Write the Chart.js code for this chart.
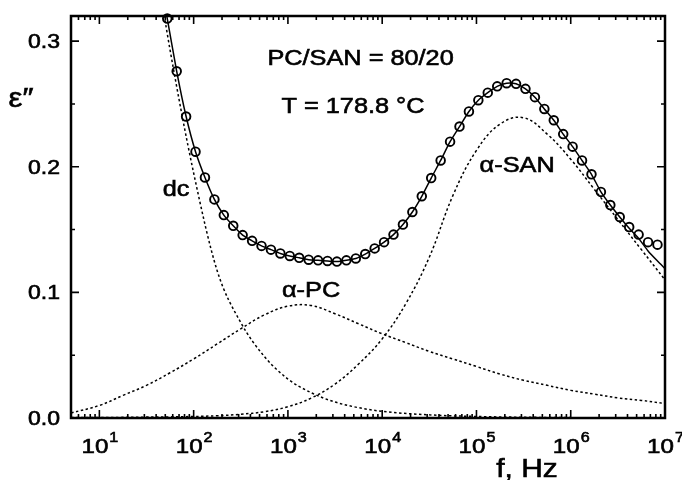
<!DOCTYPE html>
<html>
<head>
<meta charset="utf-8">
<script src="https://cdn.jsdelivr.net/npm/chart.js@4.4.1/dist/chart.umd.min.js"></script>
<style>
  body { margin: 0; background: #fff; }
  canvas { display: block; }
</style>
</head>
<body>
<canvas id="epsChart" width="682" height="480"></canvas>
<script>
// measured loss (open circles), f in Hz
const dataFreq = [5.25e1, 6.61e1, 8.32e1, 1.047e2, 1.318e2, 1.66e2, 2.09e2, 2.63e2, 3.31e2, 4.17e2,
  5.25e2, 6.61e2, 8.32e2, 1.047e3, 1.318e3, 1.66e3, 2.09e3, 2.63e3, 3.31e3, 4.17e3,
  5.25e3, 6.61e3, 8.32e3, 1.047e4, 1.318e4, 1.66e4, 2.09e4, 2.63e4, 3.31e4, 4.17e4,
  5.25e4, 6.61e4, 8.32e4, 1.047e5, 1.318e5, 1.66e5, 2.09e5, 2.63e5, 3.31e5, 4.17e5,
  5.25e5, 6.61e5, 8.32e5, 1.047e6, 1.318e6, 1.66e6, 2.09e6, 2.63e6, 3.31e6, 4.17e6,
  5.25e6, 6.61e6, 8.32e6];
const dataEps = [0.318, 0.276, 0.240, 0.212, 0.1915, 0.174, 0.1615, 0.153, 0.1456, 0.141,
  0.137, 0.134, 0.131, 0.129, 0.1275, 0.126, 0.1255, 0.125, 0.1245, 0.1255,
  0.127, 0.1305, 0.135, 0.140, 0.146, 0.154, 0.164, 0.1765, 0.191, 0.205,
  0.220, 0.232, 0.244, 0.253, 0.259, 0.264, 0.2665, 0.266, 0.262, 0.2554,
  0.246, 0.237, 0.226, 0.216, 0.205, 0.194, 0.180, 0.1695, 0.160, 0.152,
  0.146, 0.140, 0.138];

// total fit (solid line)
const fitFreq = [4.79e1, 5.25e1, 6.61e1, 8.32e1, 1.047e2, 1.318e2, 1.66e2, 2.09e2, 2.63e2, 3.31e2, 4.17e2,
  5.25e2, 6.61e2, 8.32e2, 1.047e3, 1.318e3, 1.66e3, 2.09e3, 2.63e3, 3.31e3, 4.17e3,
  5.25e3, 6.61e3, 8.32e3, 1.047e4, 1.318e4, 1.66e4, 2.09e4, 2.63e4, 3.31e4, 4.17e4,
  5.25e4, 6.61e4, 8.32e4, 1.047e5, 1.318e5, 1.66e5, 2.09e5, 2.63e5, 3.31e5, 4.17e5,
  5.25e5, 6.61e5, 8.32e5, 1.047e6, 1.318e6, 1.66e6, 2.09e6, 2.63e6, 3.31e6, 4.17e6,
  5.25e6, 6.61e6, 8.32e6, 1e7];
const fitEps = [0.335, 0.318, 0.276, 0.240, 0.212, 0.1915, 0.174, 0.1615, 0.153, 0.1456, 0.141,
  0.137, 0.134, 0.131, 0.129, 0.1275, 0.126, 0.1255, 0.125, 0.1245, 0.1255,
  0.127, 0.1305, 0.135, 0.140, 0.146, 0.154, 0.164, 0.1765, 0.191, 0.205,
  0.220, 0.232, 0.244, 0.253, 0.259, 0.264, 0.2665, 0.266, 0.262, 0.2554,
  0.246, 0.237, 0.226, 0.216, 0.205, 0.194, 0.180, 0.1695, 0.160, 0.151,
  0.143, 0.133, 0.125, 0.119];

// fit components (dotted lines)
const compFreq = [5, 1e1, 1.78e1, 3.16e1, 5.62e1, 1e2, 1.78e2, 3.16e2, 5.62e2, 1e3,
  1.78e3, 3.16e3, 5.62e3, 1e4, 1.78e4, 3.16e4, 5.62e4, 1e5, 1.78e5, 3.16e5,
  5.62e5, 1e6, 1.78e6, 3.16e6, 5.62e6, 1e7];
const pcEps = [0.004, 0.010, 0.018, 0.026, 0.036, 0.047, 0.059, 0.071, 0.082, 0.089,
  0.0895, 0.083, 0.075, 0.067, 0.060, 0.053, 0.047, 0.041, 0.035, 0.030,
  0.026, 0.022, 0.019, 0.016, 0.014, 0.0115];
const sanEps = [0.0003, 0.0004, 0.0005, 0.0007, 0.0009, 0.0012, 0.0018, 0.003, 0.005, 0.009,
  0.016, 0.027, 0.043, 0.063, 0.091, 0.128, 0.177, 0.213, 0.234, 0.239,
  0.226, 0.206, 0.182, 0.158, 0.134, 0.110];
const dcFreq = [4e1, 5.62e1, 1e2, 1.78e2, 3.16e2, 5.62e2, 1e3, 1.78e3, 3.16e3, 5.62e3,
  1e4, 3.16e4, 1e5, 1e6, 1e7];
const dcEps = [0.36, 0.293, 0.195, 0.117, 0.076, 0.049, 0.031, 0.020, 0.0127, 0.0082,
  0.0053, 0.0025, 0.0012, 0.0003, 0.0001];

const xTicks = [1e1, 1e2, 1e3, 1e4, 1e5, 1e6, 1e7];
const yTicks = [0, 0.1, 0.2, 0.3];
const yMinor = [0.05, 0.15, 0.25];

// text inside the plot, anchored in data coordinates
const notes = [
  { text: 'PC/SAN = 80/20', f: 5.9e3, e: 0.2808 },
  { text: 'T = 178.8 °C', f: 4.9e3, e: 0.2426 },
  { text: 'dc', f: 65, e: 0.177 },
  { text: 'α-PC', f: 1.76e3, e: 0.0963 },
  { text: 'α-SAN', f: 2.7e5, e: 0.1957 }
];

const FONT = '"Liberation Sans", Arial, Helvetica, sans-serif';
const STRETCH = 1.15;

function pts(xs, ys) {
  return xs.map((v, i) => ({ x: v, y: ys[i] }));
}

// scanned-looking text: slightly wide, slightly heavy
function putText(ctx, str, x, y, size, align) {
  ctx.save();
  ctx.translate(x, y);
  ctx.scale(STRETCH, 1);
  ctx.font = size + 'px ' + FONT;
  ctx.textAlign = align || 'center';
  ctx.textBaseline = 'alphabetic';
  ctx.fillStyle = '#000';
  ctx.strokeStyle = '#000';
  ctx.lineWidth = 0.6;
  ctx.fillText(str, 0, 0);
  ctx.strokeText(str, 0, 0);
  ctx.restore();
}

function textWidth(ctx, str, size) {
  ctx.font = size + 'px ' + FONT;
  return ctx.measureText(str).width * STRETCH;
}

// box frame, inward ticks and all labels
const framePlugin = {
  id: 'frame',
  afterDraw(chart) {
    const { ctx, chartArea: a, scales: { x, y } } = chart;
    ctx.save();
    ctx.strokeStyle = '#000';
    ctx.lineWidth = 1.6;
    ctx.beginPath();
    for (let e = 0; e < 7; e++) {
      for (let m = 1; m <= 9; m++) {
        const v = m * 10 ** e;
        if (v < x.min) continue;
        const px = x.getPixelForValue(v);
        const len = m === 1 ? 8 : 4;
        ctx.moveTo(px, a.bottom); ctx.lineTo(px, a.bottom - len);
        ctx.moveTo(px, a.top); ctx.lineTo(px, a.top + len);
      }
    }
    yTicks.concat(yMinor).forEach(v => {
      const py = y.getPixelForValue(v);
      const len = yTicks.includes(v) ? 8 : 4;
      ctx.moveTo(a.left, py); ctx.lineTo(a.left + len, py);
      ctx.moveTo(a.right, py); ctx.lineTo(a.right - len, py);
    });
    ctx.stroke();
    ctx.lineWidth = 2.5;
    ctx.strokeRect(a.left, a.top, a.right - a.left, a.bottom - a.top);

    yTicks.forEach(v => {
      putText(ctx, v.toFixed(1), a.left - 11, y.getPixelForValue(v) + 7, 20, 'right');
    });
    xTicks.forEach(v => {
      const px = x.getPixelForValue(v);
      const exp = String(Math.round(Math.log10(v)));
      const w1 = textWidth(ctx, '10', 21);
      const w2 = textWidth(ctx, exp, 14);
      const left = px - (w1 + w2) / 2;
      putText(ctx, '10', left, a.bottom + 35, 21, 'left');
      putText(ctx, exp, left + w1 + 1, a.bottom + 24, 14, 'left');
    });

    putText(ctx, 'f, Hz', 527, 477, 26, 'center');
    putText(ctx, 'ε″', 21, 107, 27, 'center');

    notes.forEach(n => {
      putText(ctx, n.text, x.getPixelForValue(n.f), y.getPixelForValue(n.e), 22, 'center');
    });
    ctx.restore();
  }
};

const dotted = {
  showLine: true,
  pointRadius: 0,
  borderColor: '#000',
  borderWidth: 1.5,
  borderDash: [2.5, 2.5]
};

new Chart(document.getElementById('epsChart'), {
  type: 'scatter',
  data: {
    datasets: [
      {
        label: 'data',
        data: pts(dataFreq, dataEps),
        pointRadius: 4.3,
        pointBorderWidth: 1.9,
        pointBorderColor: '#000',
        pointBackgroundColor: 'rgba(0,0,0,0)',
        clip: false
      },
      {
        label: 'fit',
        data: pts(fitFreq, fitEps),
        showLine: true,
        pointRadius: 0,
        borderColor: '#000',
        borderWidth: 1.5,
        tension: 0.2
      },
      Object.assign({ label: 'dc', data: pts(dcFreq, dcEps), cubicInterpolationMode: 'monotone' }, dotted),
      Object.assign({ label: 'α-PC', data: pts(compFreq, pcEps), tension: 0.4 }, dotted),
      Object.assign({ label: 'α-SAN', data: pts(compFreq, sanEps), tension: 0.4 }, dotted)
    ]
  },
  options: {
    responsive: false,
    animation: false,
    devicePixelRatio: 1,
    layout: { padding: { top: 16, right: 17, left: 0, bottom: 0 } },
    plugins: { legend: { display: false }, tooltip: { enabled: false } },
    scales: {
      x: {
        type: 'logarithmic',
        min: 5,
        max: 1e7,
        grid: { display: false },
        border: { display: false },
        ticks: { display: false },
        afterBuildTicks: s => { s.ticks = xTicks.map(v => ({ value: v })); },
        afterFit: s => { s.height = 62; }
      },
      y: {
        min: 0,
        max: 0.32,
        grid: { display: false },
        border: { display: false },
        ticks: { display: false },
        afterBuildTicks: s => { s.ticks = yTicks.map(v => ({ value: v })); },
        afterFit: s => { s.width = 71; }
      }
    }
  },
  plugins: [framePlugin]
});
</script>
</body>
</html>
